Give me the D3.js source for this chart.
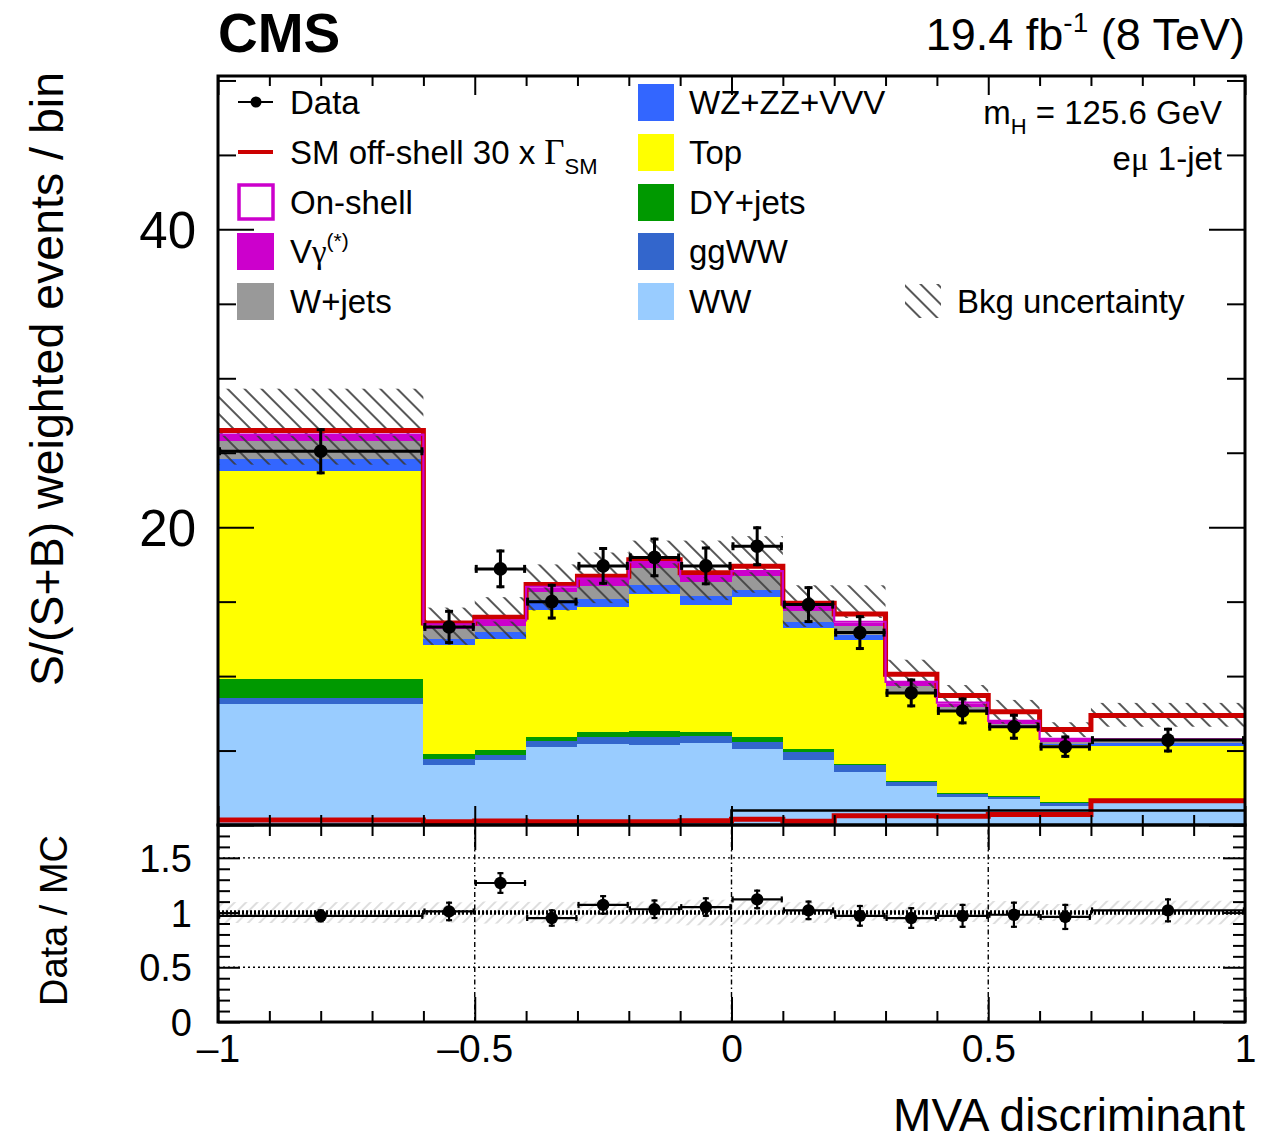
<!DOCTYPE html>
<html>
<head>
<meta charset="utf-8">
<script src="https://cdn.jsdelivr.net/npm/d3@7"></script>
<style>
  body { margin: 0; background: #fff; }
  svg text { font-family: "Liberation Sans", Arial, Helvetica, sans-serif; fill: #000; }
</style>
</head>
<body>
<svg id="chart" width="1276" height="1140"></svg>
<script>
// ---- histogram binning (MVA discriminant) ----
const binEdges = [-1, -0.6, -0.5, -0.4, -0.3, -0.2, -0.1, 0, 0.1, 0.2, 0.3, 0.4, 0.5, 0.6, 0.7, 1];

// ---- stacked backgrounds, per bin, bottom to top ----
const bkgWW     = [8.12, 4.05, 4.36, 5.26, 5.42, 5.37, 5.52, 5.08, 4.36, 3.56, 2.60, 1.88, 1.73, 1.28, 1.62];
const bkgggWW   = [0.38, 0.36, 0.34, 0.38, 0.47, 0.56, 0.45, 0.51, 0.56, 0.44, 0.29, 0.22, 0.17, 0.22, 0.08];
const bkgDY     = [1.28, 0.35, 0.33, 0.29, 0.33, 0.40, 0.25, 0.34, 0.16, 0.10, 0.07, 0.04, 0.07, 0.02, 0.02];
const bkgTop    = [14.0, 7.31, 7.45, 8.50, 8.43, 9.17, 8.55, 9.39, 8.18, 8.35, 5.89, 5.51, 4.54, 3.86, 3.58];
const bkgVV     = [0.83, 0.45, 0.45, 0.67, 0.56, 0.61, 0.60, 0.45, 0.38, 0.33, 0.11, 0.07, 0.07, 0.03, 0.18];
const bkgWjets  = [1.18, 0.66, 0.43, 0.56, 0.85, 1.12, 0.96, 0.94, 0.74, 0.56, 0.38, 0.22, 0.20, 0.17, 0.22];
const bkgVgamma = [0.38, 0.17, 0.33, 0.27, 0.43, 0.37, 0.33, 0.29, 0.27, 0.21, 0.17, 0.18, 0.13, 0.13, 0.03];

// ---- signals ----
const sigOnShell  = [0.05, 0.12, 0.05, 0.07, 0.05, 0.05, 0.05, 0.05, 0.05, 0.10, 0.10, 0.10, 0.08, 0.08, 0.03];
const sigOffShell = [0.33, 0.22, 0.27, 0.22, 0.22, 0.22, 0.28, 0.38, 0.25, 0.62, 0.62, 0.58, 0.70, 0.70, 1.63];
const sigBlack    = [0, 0, 0, 0, 0, 0, 0, 0.97, 0.97, 0.97, 0.97, 0.97, 0.97, 0.97, 0.97];

// ---- background uncertainty band (lower / upper edge) ----
const uncLow  = [24.2, 12.1, 12.5, 14.4, 14.9, 15.6, 15.1, 15.6, 13.3, 13.9, 9.2, 7.9, 6.8, 5.9, 6.6];
const uncHigh = [29.3, 14.6, 15.3, 17.5, 18.3, 19.1, 19.1, 19.4, 16.1, 16.1, 11.1, 9.4, 8.4, 6.9, 8.2];

// ---- observed data ----
const dataVal = [25.1, 13.3, 17.2, 15.0, 17.4, 17.97, 17.4, 18.72, 14.8, 12.92, 8.87, 7.66, 6.6, 5.26, 5.7];
const dataErr = [1.55, 1.15, 1.3, 1.2, 1.27, 1.33, 1.3, 1.34, 1.24, 1.17, 0.97, 0.9, 0.87, 0.75, 0.83];

// ---- data / MC ratio ----
const ratioVal = [0.97, 1.01, 1.27, 0.95, 1.07, 1.03, 1.05, 1.12, 1.02, 0.97, 0.95, 0.97, 0.98, 0.96, 1.02];
const ratioErr = [0.06, 0.09, 0.10, 0.08, 0.09, 0.09, 0.09, 0.09, 0.09, 0.10, 0.10, 0.11, 0.12, 0.12, 0.11];

// ---- axis ticks ----
const xMajorTicks = [-1, -0.5, 0, 0.5, 1];
const yMainLabels = [20, 40];
const yRatioLabels = [0, 0.5, 1, 1.5];

const stackLayers = [
  { name: "WW",        values: bkgWW,     color: "#99ccff" },
  { name: "ggWW",      values: bkgggWW,   color: "#3366cc" },
  { name: "DY+jets",   values: bkgDY,     color: "#009900" },
  { name: "Top",       values: bkgTop,    color: "#ffff00" },
  { name: "WZ+ZZ+VVV", values: bkgVV,     color: "#3366ff" },
  { name: "W+jets",    values: bkgWjets,  color: "#999999" },
  { name: "Vgamma",    values: bkgVgamma, color: "#cc00cc" }
];

const svg = d3.select("#chart");
const nBins = binEdges.length - 1;
const bins = d3.range(nBins).map(i => ({ i, lo: binEdges[i], hi: binEdges[i + 1], mid: (binEdges[i] + binEdges[i + 1]) / 2 }));

// scales
const x  = d3.scaleLinear().domain([-1, 1]).range([218, 1245]);
const y  = d3.scaleLinear().domain([0, 50.3]).range([825, 76]);
const yr = d3.scaleLinear().domain([0, 1.8]).range([1022, 825]);

const defs = svg.append("defs");
defs.append("clipPath").attr("id", "clipMain").append("rect")
  .attr("x", x(-1)).attr("y", y(50.3)).attr("width", x(1) - x(-1)).attr("height", y(0) - y(50.3));
defs.append("clipPath").attr("id", "clipRatio").append("rect")
  .attr("x", x(-1)).attr("y", yr(1.8)).attr("width", x(1) - x(-1)).attr("height", yr(0) - yr(1.8));

// hatch for the background uncertainty ("\\" lines)
const hatch = defs.append("pattern").attr("id", "hatchMain")
  .attr("patternUnits", "userSpaceOnUse").attr("width", 12).attr("height", 12)
  .attr("patternTransform", "rotate(-45)");
hatch.append("line").attr("x1", 6).attr("y1", -2).attr("x2", 6).attr("y2", 14)
  .attr("stroke", "#3a3a3a").attr("stroke-width", 1.7);

// lighter "/" hatch for the ratio band
const hatchR = defs.append("pattern").attr("id", "hatchRatio")
  .attr("patternUnits", "userSpaceOnUse").attr("width", 8).attr("height", 8)
  .attr("patternTransform", "rotate(45)");
hatchR.append("line").attr("x1", 4).attr("y1", -2).attr("x2", 4).attr("y2", 10)
  .attr("stroke", "#bdbdbd").attr("stroke-width", 1);

// ===================== main panel =====================
const main = svg.append("g").attr("clip-path", "url(#clipMain)");

// stacked fills
const cum = bins.map(() => 0);
stackLayers.forEach(layer => {
  const rows = bins.map(b => ({ b, y0: cum[b.i], y1: cum[b.i] + layer.values[b.i] }));
  rows.forEach(r => { cum[r.b.i] = r.y1; });
  main.append("g").selectAll("rect").data(rows).join("rect")
    .attr("x", d => x(d.b.lo)).attr("width", d => x(d.b.hi) - x(d.b.lo))
    .attr("y", d => y(d.y1)).attr("height", d => y(d.y0) - y(d.y1))
    .attr("fill", layer.color).attr("shape-rendering", "crispEdges");
});
const bkgTotal = cum.slice();

// step line helper
function stepPath(vals, xs, ys) {
  let p = "";
  bins.forEach((b, k) => {
    const yy = ys(vals[k]);
    p += (k === 0 ? `M${xs(b.lo)},${yy}` : `V${yy}`) + `H${xs(b.hi)}`;
  });
  return p;
}

// background uncertainty band
main.append("g").selectAll("rect").data(bins).join("rect")
  .attr("x", b => x(b.lo)).attr("width", b => x(b.hi) - x(b.lo))
  .attr("y", b => y(uncHigh[b.i])).attr("height", b => y(uncLow[b.i]) - y(uncHigh[b.i]))
  .attr("fill", "url(#hatchMain)");

// off-shell 30 x Gamma_SM on top of background
main.append("path")
  .attr("d", stepPath(bins.map(b => bkgTotal[b.i] + sigOffShell[b.i]), x, y))
  .attr("fill", "none").attr("stroke", "#cc0000").attr("stroke-width", 5);

// on-shell signal stacked on top (outline only)
main.append("path")
  .attr("d", stepPath(bins.map(b => bkgTotal[b.i] + sigOnShell[b.i]), x, y))
  .attr("fill", "none").attr("stroke", "#cc00cc").attr("stroke-width", 2.2);

// off-shell alone
main.append("path")
  .attr("d", stepPath(sigOffShell, x, y))
  .attr("fill", "none").attr("stroke", "#cc0000").attr("stroke-width", 5);

// black histogram near the bottom
main.append("path")
  .attr("d", stepPath(sigBlack, x, y))
  .attr("fill", "none").attr("stroke", "#000").attr("stroke-width", 2.6);

// data points with error bars
function drawPoints(g, vals, errs, ys, r, lw, cap) {
  const pts = g.append("g");
  bins.forEach(b => {
    const cx = x(b.mid), cy = ys(vals[b.i]);
    const yTop = ys(vals[b.i] + errs[b.i]), yBot = ys(vals[b.i] - errs[b.i]);
    const xl = x(b.lo), xh = x(b.hi);
    pts.append("line").attr("x1", xl).attr("x2", xh).attr("y1", cy).attr("y2", cy)
      .attr("stroke", "#000").attr("stroke-width", lw);
    pts.append("line").attr("x1", cx).attr("x2", cx).attr("y1", yTop).attr("y2", yBot)
      .attr("stroke", "#000").attr("stroke-width", lw);
    // end caps
    [xl + lw / 2, xh - lw / 2].forEach(xx => pts.append("line")
      .attr("x1", xx).attr("x2", xx).attr("y1", cy - cap).attr("y2", cy + cap)
      .attr("stroke", "#000").attr("stroke-width", lw));
    [yTop + lw / 2, yBot - lw / 2].forEach(yy => pts.append("line")
      .attr("x1", cx - cap).attr("x2", cx + cap).attr("y1", yy).attr("y2", yy)
      .attr("stroke", "#000").attr("stroke-width", lw));
    pts.append("circle").attr("cx", cx).attr("cy", cy).attr("r", r).attr("fill", "#000");
  });
}
drawPoints(svg.append("g").attr("clip-path", "url(#clipMain)"), dataVal, dataErr, y, 6.8, 3, 4);

// ===================== ratio panel =====================
const ratio = svg.append("g").attr("clip-path", "url(#clipRatio)");

// relative background uncertainty around 1
ratio.append("g").selectAll("rect").data(bins).join("rect")
  .attr("x", b => x(b.lo)).attr("width", b => x(b.hi) - x(b.lo))
  .attr("y", b => { const c = (uncHigh[b.i] + uncLow[b.i]) / 2; return yr(1 + (uncHigh[b.i] - c) / c); })
  .attr("height", b => { const c = (uncHigh[b.i] + uncLow[b.i]) / 2; return yr(1 - (c - uncLow[b.i]) / c) - yr(1 + (uncHigh[b.i] - c) / c); })
  .attr("fill", "url(#hatchRatio)");

// grid
[0.5, 1.5].forEach(v => ratio.append("line")
  .attr("x1", x(-1)).attr("x2", x(1)).attr("y1", yr(v)).attr("y2", yr(v))
  .attr("stroke", "#000").attr("stroke-width", 1.4).attr("stroke-dasharray", "2,3"));
[-0.5, 0, 0.5].forEach(v => ratio.append("line")
  .attr("x1", x(v)).attr("x2", x(v)).attr("y1", yr(0)).attr("y2", yr(1.8))
  .attr("stroke", "#000").attr("stroke-width", 1.4).attr("stroke-dasharray", "5,3,1.5,3"));
ratio.append("line")
  .attr("x1", x(-1)).attr("x2", x(1)).attr("y1", yr(1)).attr("y2", yr(1))
  .attr("stroke", "#000").attr("stroke-width", 4.5).attr("stroke-dasharray", "2,2");

drawPoints(svg.append("g").attr("clip-path", "url(#clipRatio)"), ratioVal, ratioErr, yr, 6.2, 2.2, 3);

// ===================== axes & frames =====================
const xMinor = d3.range(-10, 11).map(v => v / 10).filter(v => !xMajorTicks.some(t => Math.abs(t - v) < 1e-9));
const yMinor = d3.range(0, 51, 5).filter(v => v % 20 !== 0);
const yMajorMain = [0, 20, 40];
const yrMinor = d3.range(0, 19).map(v => v / 10).filter(v => Math.abs(v * 2 - Math.round(v * 2)) > 1e-9);
const yrMajor = [0, 0.5, 1, 1.5];

function tickAxis(gen, scale, values, size, transform, labels, pad, fontSize) {
  const a = gen(scale).tickValues(values).tickSizeInner(-size).tickSizeOuter(0);
  if (labels) a.tickPadding(pad).tickFormat(labels); else a.tickFormat("");
  const g = svg.append("g").attr("transform", transform).call(a);
  g.select(".domain").remove();
  g.selectAll(".tick line").attr("stroke", "#000").attr("stroke-width", 2);
  if (labels) g.selectAll("text").style("font-size", fontSize + "px").style("font-family", '"Liberation Sans", Arial, sans-serif').attr("fill", "#000");
  return g;
}
const fmtX = v => v === 0 ? "0" : (v < 0 ? "\u2013" : "") + Math.abs(v);

// main panel: bottom, top, left, right
tickAxis(d3.axisBottom, x, xMajorTicks, 19, `translate(0,${y(0)})`);
tickAxis(d3.axisBottom, x, xMinor, 10, `translate(0,${y(0)})`);
tickAxis(d3.axisTop, x, xMajorTicks, 19, `translate(0,${y(50.3)})`);
tickAxis(d3.axisTop, x, xMinor, 10, `translate(0,${y(50.3)})`);
tickAxis(d3.axisLeft, y, yMajorMain, 36, `translate(${x(-1)},0)`);
tickAxis(d3.axisLeft, y, yMinor, 18, `translate(${x(-1)},0)`);
tickAxis(d3.axisRight, y, yMajorMain, 36, `translate(${x(1)},0)`);
tickAxis(d3.axisRight, y, yMinor, 18, `translate(${x(1)},0)`);
tickAxis(d3.axisLeft, y, yMainLabels, 0, `translate(${x(-1)},0)`, d => d, 22, 51)
  .selectAll("text").attr("dy", "0.36em");

// ratio panel
tickAxis(d3.axisBottom, x, xMajorTicks, 25, `translate(0,${yr(0)})`);
tickAxis(d3.axisBottom, x, xMinor, 11, `translate(0,${yr(0)})`);
tickAxis(d3.axisTop, x, xMajorTicks, 25, `translate(0,${yr(1.8)})`);
tickAxis(d3.axisTop, x, xMinor, 11, `translate(0,${yr(1.8)})`);
tickAxis(d3.axisLeft, yr, yrMajor, 22, `translate(${x(-1)},0)`);
tickAxis(d3.axisLeft, yr, yrMinor, 12, `translate(${x(-1)},0)`);
tickAxis(d3.axisRight, yr, yrMajor, 22, `translate(${x(1)},0)`);
tickAxis(d3.axisRight, yr, yrMinor, 12, `translate(${x(1)},0)`);
tickAxis(d3.axisLeft, yr, yRatioLabels, 0, `translate(${x(-1)},0)`, d => d, 26, 38)
  .selectAll("text").attr("dy", "0.36em");
tickAxis(d3.axisBottom, x, xMajorTicks, 0, `translate(0,${yr(0)})`, fmtX, 12, 39);

// frames
svg.append("rect").attr("x", x(-1)).attr("y", y(50.3)).attr("width", x(1) - x(-1)).attr("height", y(0) - y(50.3))
  .attr("fill", "none").attr("stroke", "#000").attr("stroke-width", 3);
svg.append("rect").attr("x", x(-1)).attr("y", yr(1.8)).attr("width", x(1) - x(-1)).attr("height", yr(0) - yr(1.8))
  .attr("fill", "none").attr("stroke", "#000").attr("stroke-width", 3);

// ===================== texts =====================
const serif = '"Liberation Serif", "DejaVu Serif", serif';

svg.append("text").attr("x", 218).attr("y", 52).style("font-size", "55px").style("font-weight", "bold").text("CMS");

const lumi = svg.append("text").attr("x", 1245).attr("y", 50).attr("text-anchor", "end").style("font-size", "45px");
lumi.append("tspan").text("19.4 fb");
lumi.append("tspan").attr("dy", -18).style("font-size", "28px").text("-1");
lumi.append("tspan").attr("dy", 18).text(" (8 TeV)");

svg.append("text").attr("transform", "translate(63,72) rotate(-90)").attr("text-anchor", "end")
  .style("font-size", "46.5px").text("S/(S+B) weighted events / bin");
svg.append("text").attr("transform", "translate(67,835) rotate(-90)").attr("text-anchor", "end")
  .style("font-size", "38px").text("Data / MC");
svg.append("text").attr("x", 1245).attr("y", 1131).attr("text-anchor", "end")
  .style("font-size", "46px").text("MVA discriminant");

// channel info
const mh = svg.append("text").attr("x", 1222).attr("y", 124).attr("text-anchor", "end").style("font-size", "33px");
mh.append("tspan").text("m");
mh.append("tspan").attr("dy", 10).style("font-size", "22px").text("H");
mh.append("tspan").attr("dy", -10).text(" = 125.6 GeV");
const ch = svg.append("text").attr("x", 1222).attr("y", 170).attr("text-anchor", "end").style("font-size", "33px");
ch.append("tspan").text("e");
ch.append("tspan").style("font-family", serif).text("\u03bc");
ch.append("tspan").text(" 1-jet");

// ===================== legend =====================
const rowY = [102, 152, 202, 251, 301];
const leg = svg.append("g");
function legText(xx, yy) {
  return leg.append("text").attr("x", xx).attr("y", yy + 12).style("font-size", "33px");
}
// left column
leg.append("line").attr("x1", 238).attr("x2", 273).attr("y1", rowY[0]).attr("y2", rowY[0]).attr("stroke", "#000").attr("stroke-width", 2);
leg.append("circle").attr("cx", 256).attr("cy", rowY[0]).attr("r", 5.5).attr("fill", "#000");
legText(290, rowY[0]).text("Data");

leg.append("line").attr("x1", 238).attr("x2", 273).attr("y1", rowY[1]).attr("y2", rowY[1]).attr("stroke", "#cc0000").attr("stroke-width", 4);
const sm = legText(290, rowY[1]);
sm.append("tspan").text("SM off-shell 30 x ");
sm.append("tspan").style("font-family", serif).style("font-size", "35px").text("\u0393");
sm.append("tspan").attr("dy", 10).style("font-size", "22px").text("SM");

leg.append("rect").attr("x", 239).attr("y", rowY[2] - 17).attr("width", 34).attr("height", 34)
  .attr("fill", "#fff").attr("stroke", "#cc00cc").attr("stroke-width", 3.5);
legText(290, rowY[2]).text("On-shell");

leg.append("rect").attr("x", 237).attr("y", rowY[3] - 18).attr("width", 37).attr("height", 37).attr("fill", "#cc00cc");
const vg = legText(290, rowY[3]);
vg.append("tspan").text("V");
vg.append("tspan").style("font-family", serif).text("\u03b3");
vg.append("tspan").attr("dy", -15).style("font-size", "21px").text("(*)");

leg.append("rect").attr("x", 237).attr("y", rowY[4] - 18).attr("width", 37).attr("height", 37).attr("fill", "#999999");
legText(290, rowY[4]).text("W+jets");

// right column (reverse stacking order)
const rightItems = [stackLayers[4], stackLayers[3], stackLayers[2], stackLayers[1], stackLayers[0]];
rightItems.forEach((l, k) => {
  leg.append("rect").attr("x", 638).attr("y", rowY[k] - 18).attr("width", 36).attr("height", 37).attr("fill", l.color);
  legText(689, rowY[k]).text(l.name);
});

// uncertainty entry
leg.append("rect").attr("x", 905).attr("y", rowY[4] - 17).attr("width", 36).attr("height", 34).attr("fill", "url(#hatchMain)");
legText(957, rowY[4]).text("Bkg uncertainty");
</script>
</body>
</html>
